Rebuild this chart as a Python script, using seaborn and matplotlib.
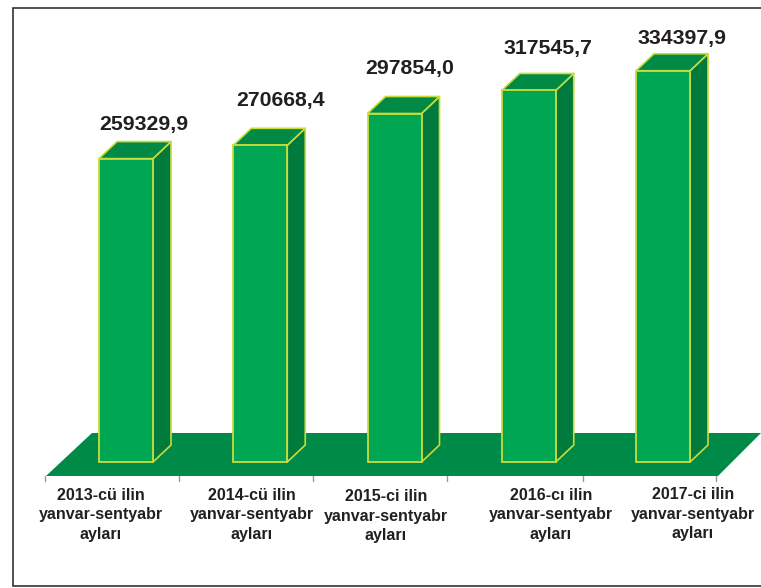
import matplotlib
matplotlib.use('Agg')
import pandas as pd
import seaborn as sns
import matplotlib.pyplot as plt
from matplotlib.patches import Polygon

categories = ['2013-cü ilin\nyanvar-sentyabr\nayları', '2014-cü ilin\nyanvar-sentyabr\nayları',
              '2015-ci ilin\nyanvar-sentyabr\nayları', '2016-cı ilin\nyanvar-sentyabr\nayları',
              '2017-ci ilin\nyanvar-sentyabr\nayları']
values = [259329.9, 270668.4, 297854.0, 317545.7, 334397.9]
value_labels = ['259329,9', '270668,4', '297854,0', '317545,7', '334397,9']

# label placement in pixels
label_dx = [18, 20, 15, 19, 19]
label_dy = [34, 45, 45, 42, 32]
cat_x = [101, 252, 386, 551, 693]
cat_y = [515, 515, 516, 515, 514]
tick_x = [45, 179, 313, 447, 583, 716]

face = '#00a651'
side = '#007a3d'
top = '#008a45'
floor = '#008a47'
edge = '#c9dc3a'
ink = '#231f20'
depth_x, depth_y = 18, 17

sns.set_theme(style='white')
plt.rcParams['font.family'] = ['Liberation Sans', 'DejaVu Sans']
plt.rcParams['font.weight'] = 'bold'

fig = plt.figure(figsize=(7.61, 5.88), dpi=100)

# background layer in pixel coordinates: frame, floor, ticks, category labels
bg = fig.add_axes([0, 0, 1, 1])
bg.set_xlim(0, 761)
bg.set_ylim(588, 0)
bg.axis('off')
bg.plot([761, 13, 13, 761], [8, 8, 586, 586], color='#333333', lw=1.2, solid_joinstyle='miter')
bg.add_patch(Polygon([(46, 476), (92, 433), (761, 433), (718, 476)], color=floor, lw=0))
for x in tick_x:
    bg.plot([x, x], [476, 481], color='#7f9fb0', lw=1)
for c, x, y in zip(categories, cat_x, cat_y):
    bg.text(x, y, c, ha='center', va='center', fontsize=11.5, color=ink, linespacing=1.34)

# bars on a value axis: baseline at y=462 px, 1.17 px per 1000
ax = fig.add_axes([0, 0, 1, 1])
ax.patch.set_alpha(0)
step = 134.25
scale = 1.17 / 1000

df = pd.DataFrame({'category': categories, 'value': values})
sns.barplot(data=df, x='category', y='value', color=face, saturation=1, width=54 / step,
            edgecolor=edge, linewidth=1.3, ax=ax, zorder=4)
ax.set_xlim(-126 / step, (761 - 126) / step)
ax.set_ylim(-(588 - 462) / scale, 462 / scale)
ax.axis('off')

dx = depth_x / step
dy = depth_y / scale
for bar, lab, ldx, ldy in zip(ax.patches, value_labels, label_dx, label_dy):
    x0, x1, h = bar.get_x(), bar.get_x() + bar.get_width(), bar.get_height()
    ax.add_patch(Polygon([(x1, 0), (x1 + dx, dy), (x1 + dx, h + dy), (x1, h)], facecolor=side,
                         edgecolor=edge, lw=1.2, zorder=3, joinstyle='round'))
    ax.add_patch(Polygon([(x0, h), (x0 + dx, h + dy), (x1 + dx, h + dy), (x1, h)], facecolor=top,
                         edgecolor=edge, lw=1.2, zorder=3, joinstyle='round'))
    ax.annotate(lab, xy=((x0 + x1) / 2, h), xytext=(ldx, ldy), textcoords='offset pixels',
                ha='center', va='center', fontsize=15.3, color=ink)

fig.savefig('out.png', dpi=100, facecolor='white')
